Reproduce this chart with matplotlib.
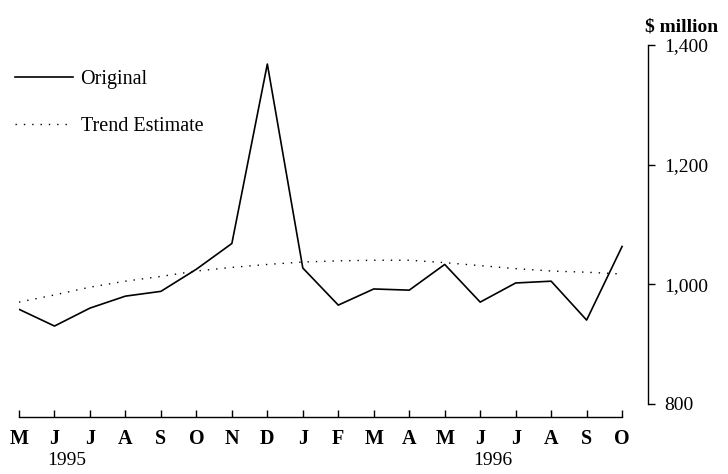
"""Original vs trend estimate, $ million, May 1995 - Oct 1996."""
import matplotlib
matplotlib.use("Agg")
import matplotlib.pyplot as plt

months = ["M", "J", "J", "A", "S", "O", "N", "D", "J",
          "F", "M", "A", "M", "J", "J", "A", "S", "O"]
original = [958, 930, 960, 980, 988, 1025, 1068, 1368, 1027,
            965, 992, 990, 1033, 970, 1002, 1005, 940, 1063]
trend = [970, 982, 995, 1005, 1013, 1022, 1028, 1033, 1037,
         1039, 1040, 1040, 1036, 1031, 1026, 1022, 1020, 1017]
y_ticks = [800, 1000, 1200, 1400]
y_tick_labels = ["800", "1,000", "1,200", "1,400"]
years = {"1995": 1, "1996": 13}

plt.rcParams["font.family"] = ["Liberation Serif", "DejaVu Serif"]

fig = plt.figure(figsize=(7.28, 4.74), dpi=100)
ax = fig.add_axes([0.0261, 0.1203, 0.864, 0.785])

x = list(range(len(months)))
ax.plot(x, original, color="black", linewidth=1.2, label="Original")
ax.plot(x, trend, color="black", linewidth=1.0,
        linestyle=(0, (1, 5)), label="Trend Estimate")

ax.set_xlim(0, 17.73)
ax.set_ylim(778, 1400)

for side in ["top", "left"]:
    ax.spines[side].set_visible(False)
ax.spines["bottom"].set_bounds(0, 17)
ax.spines["right"].set_bounds(800, 1400)
ax.spines["bottom"].set_linewidth(1.0)
ax.spines["right"].set_linewidth(1.0)

ax.set_xticks(x)
ax.set_xticklabels(months, fontsize=14.5, fontweight="bold")
ax.tick_params(axis="x", direction="in", length=5, width=1.0, pad=9)

ax.yaxis.tick_right()
ax.set_yticks(y_ticks)
ax.set_yticklabels(y_tick_labels, fontsize=14)
ax.tick_params(axis="y", direction="out", length=5, width=1.0, pad=7)

for year, pos in years.items():
    ax.text(pos - 0.2, -0.095, year, transform=ax.get_xaxis_transform(),
            ha="left", va="top", fontsize=14)

fig.text(0.886, 0.943, "$ million", fontsize=14, fontweight="bold",
         ha="left", va="center")

ax.legend(loc="upper left", bbox_to_anchor=(-0.019, 0.955), frameon=False,
          fontsize=14.5, handlelength=2.85, handletextpad=0.4,
          labelspacing=1.4, borderaxespad=0)

fig.savefig("out.png", dpi=100)
